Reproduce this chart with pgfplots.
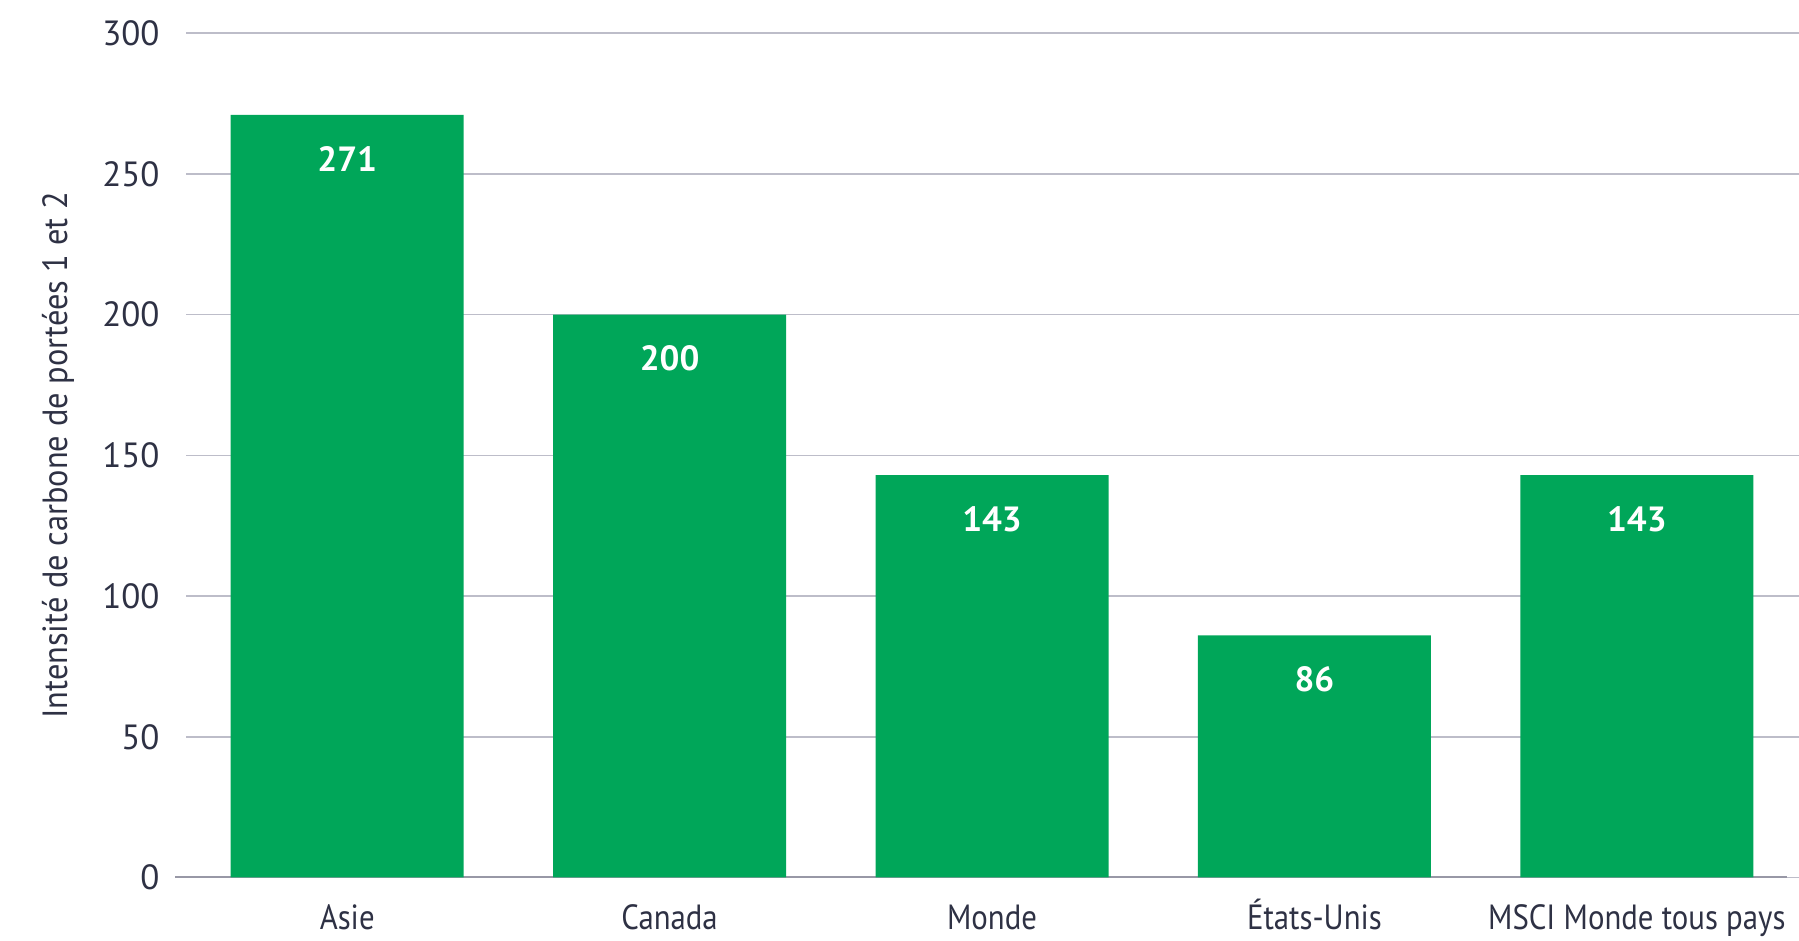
\documentclass[border=0pt]{standalone}
\usepackage{pgfplots}
\pgfplotsset{compat=1.18}
\usepackage{fontspec}
\setmainfont{PT Sans}
\newfontfamily\narrowx[FakeStretch=0.88]{PT Sans}
\newfontfamily\narrowy[FakeStretch=0.925]{PT Sans}
\definecolor{barg}{HTML}{00A659}
\definecolor{gridc}{HTML}{BDBDC9}
\definecolor{axisc}{HTML}{9898A6}
\definecolor{txt}{HTML}{2E3144}
\begin{document}
\begin{tikzpicture}
\begin{axis}[
  at={(74.4pt,25.4pt)}, anchor=south west,
  scale only axis, width=645.2pt, height=337.7pt,
  xmin=-0.5, xmax=4.503, ymin=0, ymax=300,
  ytick={0,50,...,300},
  xtick={0,1,2,3,4},
  xticklabels={Asie,Canada,Monde,États-Unis,MSCI Monde tous pays},
  axis x line*=bottom, axis y line*=left,
  y axis line style={draw=none},
  x axis line style={draw=axisc, line width=0.8pt, -, shorten <=-4.4pt, shorten >=4.8pt},
  major tick length=0pt,
  ymajorgrids, grid style={draw=gridc, line width=0.6pt},
  tick label style={font=\fontsize{14}{16}\selectfont, text=txt},
  /pgf/number format/assume math mode=true,
  yticklabel style={anchor=east, inner sep=0pt, xshift=-10.4pt},
  xticklabel style={anchor=base, inner sep=0pt, yshift=-21pt, font=\narrowx\fontsize{14}{16}\selectfont},
  ylabel={Intensité de carbone de portées 1 et 2},
  ylabel style={at={(axis description cs:-0.0794,0.5)}, anchor=center, rotate=0, font=\narrowy\fontsize{14}{16}\selectfont, text=txt},
  nodes near coords,
  nodes near coords style={anchor=center, yshift=-17.6pt, font=\fontsize{14}{16}\selectfont\bfseries, text=white},
  point meta=y,
]
\addplot[ybar, bar width=93.2pt, fill=barg, draw=none] coordinates {(0,271) (1,200) (2,143) (3,86) (4,143)};
\end{axis}
\pgfresetboundingbox
\path[use as bounding box] (0,0) rectangle (719.6pt,376.4pt);
\end{tikzpicture}
\end{document}
